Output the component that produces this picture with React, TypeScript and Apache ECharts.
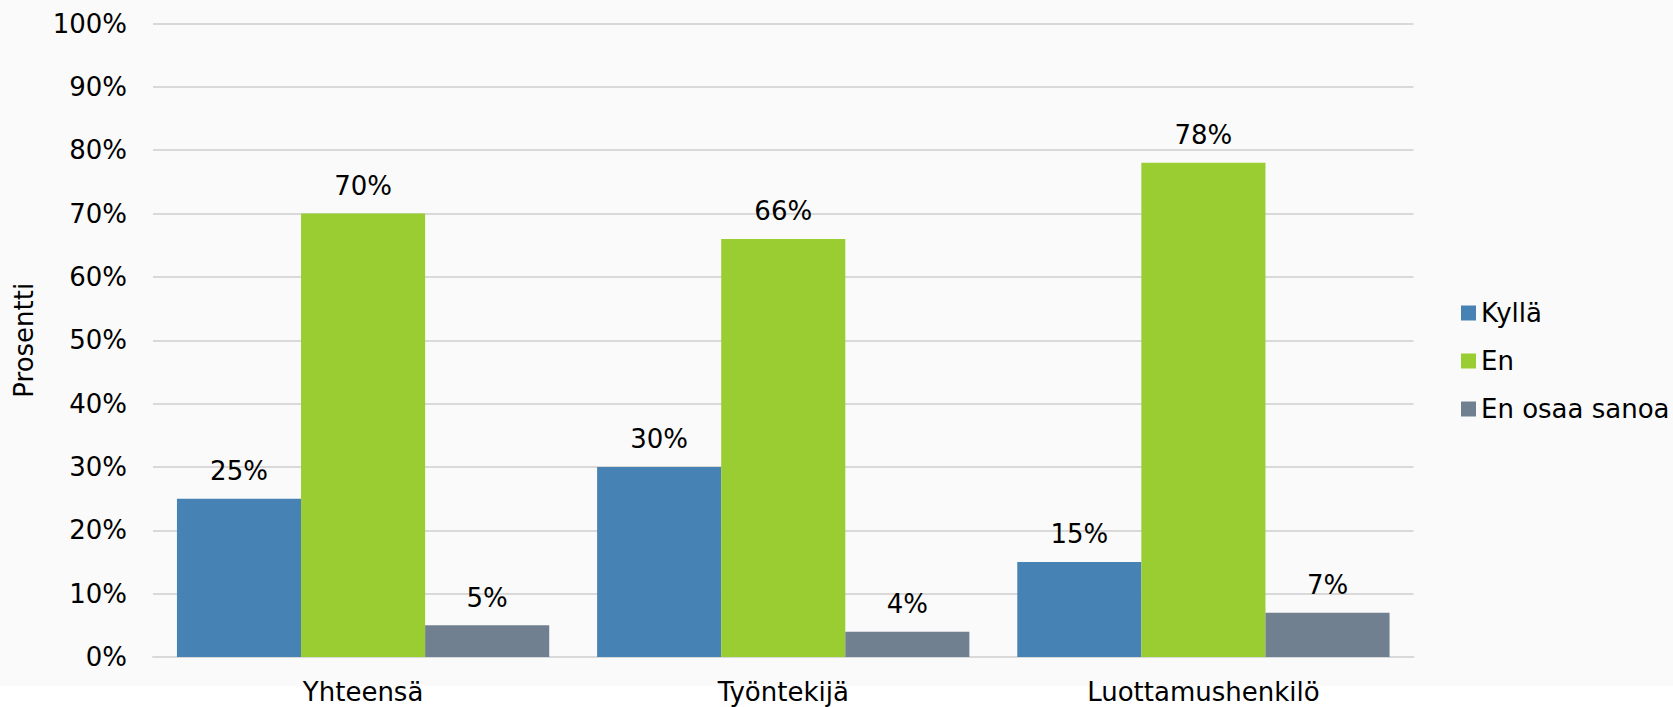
import React, { useEffect, useRef } from "react";
import * as echarts from "echarts";

const categories = ["Yhteensä", "Työntekijä", "Luottamushenkilö"];
const seriesNames = ["Kyllä", "En", "En osaa sanoa"];
const kyllaValues = [25, 30, 15];
const enValues = [70, 66, 78];
const eosValues = [5, 4, 7];
const seriesColors = ["#4682B4", "#9ACD32", "#708090"];
const yAxisName = "Prosentti";

const FONT = "DejaVu Sans";

export default function App() {
  const ref = useRef<HTMLDivElement>(null);
  useEffect(() => {
    if (!ref.current) return;
    const chart = echarts.init(ref.current, null, { renderer: "svg" });
    const values = [kyllaValues, enValues, eosValues];
    chart.setOption({
      animation: false,
      backgroundColor: "#ffffff",
      textStyle: { fontFamily: FONT },
      graphic: [
        {
          type: "rect",
          z: -10,
          silent: true,
          shape: { x: 0, y: 0, width: 1673, height: 686 },
          style: { fill: "#fafafa" },
        },
      ],
      grid: {
        left: 153,
        right: 1673 - 1413.5,
        top: 23.5,
        bottom: 707 - 657,
        containLabel: false,
        outerBoundsMode: "none",
      },
      legend: {
        orient: "vertical",
        left: 1456,
        top: 295,
        itemWidth: 15,
        itemHeight: 15,
        itemGap: 22,
        icon: "rect",
        textStyle: { fontFamily: FONT, fontSize: 26, color: "#000" },
        data: seriesNames,
      },
      xAxis: {
        type: "category",
        data: categories,
        axisTick: { show: false },
        axisLine: { show: true, lineStyle: { color: "#d9d9d9", width: 2 } },
        axisLabel: { fontFamily: FONT, fontSize: 26, color: "#000", margin: 21.5 },
      },
      yAxis: {
        type: "value",
        min: 0,
        max: 100,
        interval: 10,
        name: yAxisName,
        nameLocation: "middle",
        nameGap: 116,
        nameTextStyle: { fontFamily: FONT, fontSize: 26, color: "#000" },
        axisLine: { show: false },
        axisTick: { show: false },
        axisLabel: {
          fontFamily: FONT,
          fontSize: 26,
          color: "#000",
          margin: 26,
          formatter: (v: number) => v + "%",
        },
        splitLine: { show: true, lineStyle: { color: "#d9d9d9", width: 2 } },
      },
      series: seriesNames.map((name, i) => ({
        type: "bar",
        name,
        data: values[i],
        barGap: "0%",
        barCategoryGap: "11.4%",
        itemStyle: { color: seriesColors[i] },
        label: {
          show: true,
          position: "top",
          distance: 14.5,
          fontFamily: FONT,
          fontSize: 26,
          color: "#000",
          formatter: (p: any) => p.value + "%",
        },
      })),
    });
    return () => chart.dispose();
  }, []);
  return (
    <div
      ref={ref}
      style={{ position: "fixed", left: 0, top: 0, width: 1673, height: 707 }}
    />
  );
}
